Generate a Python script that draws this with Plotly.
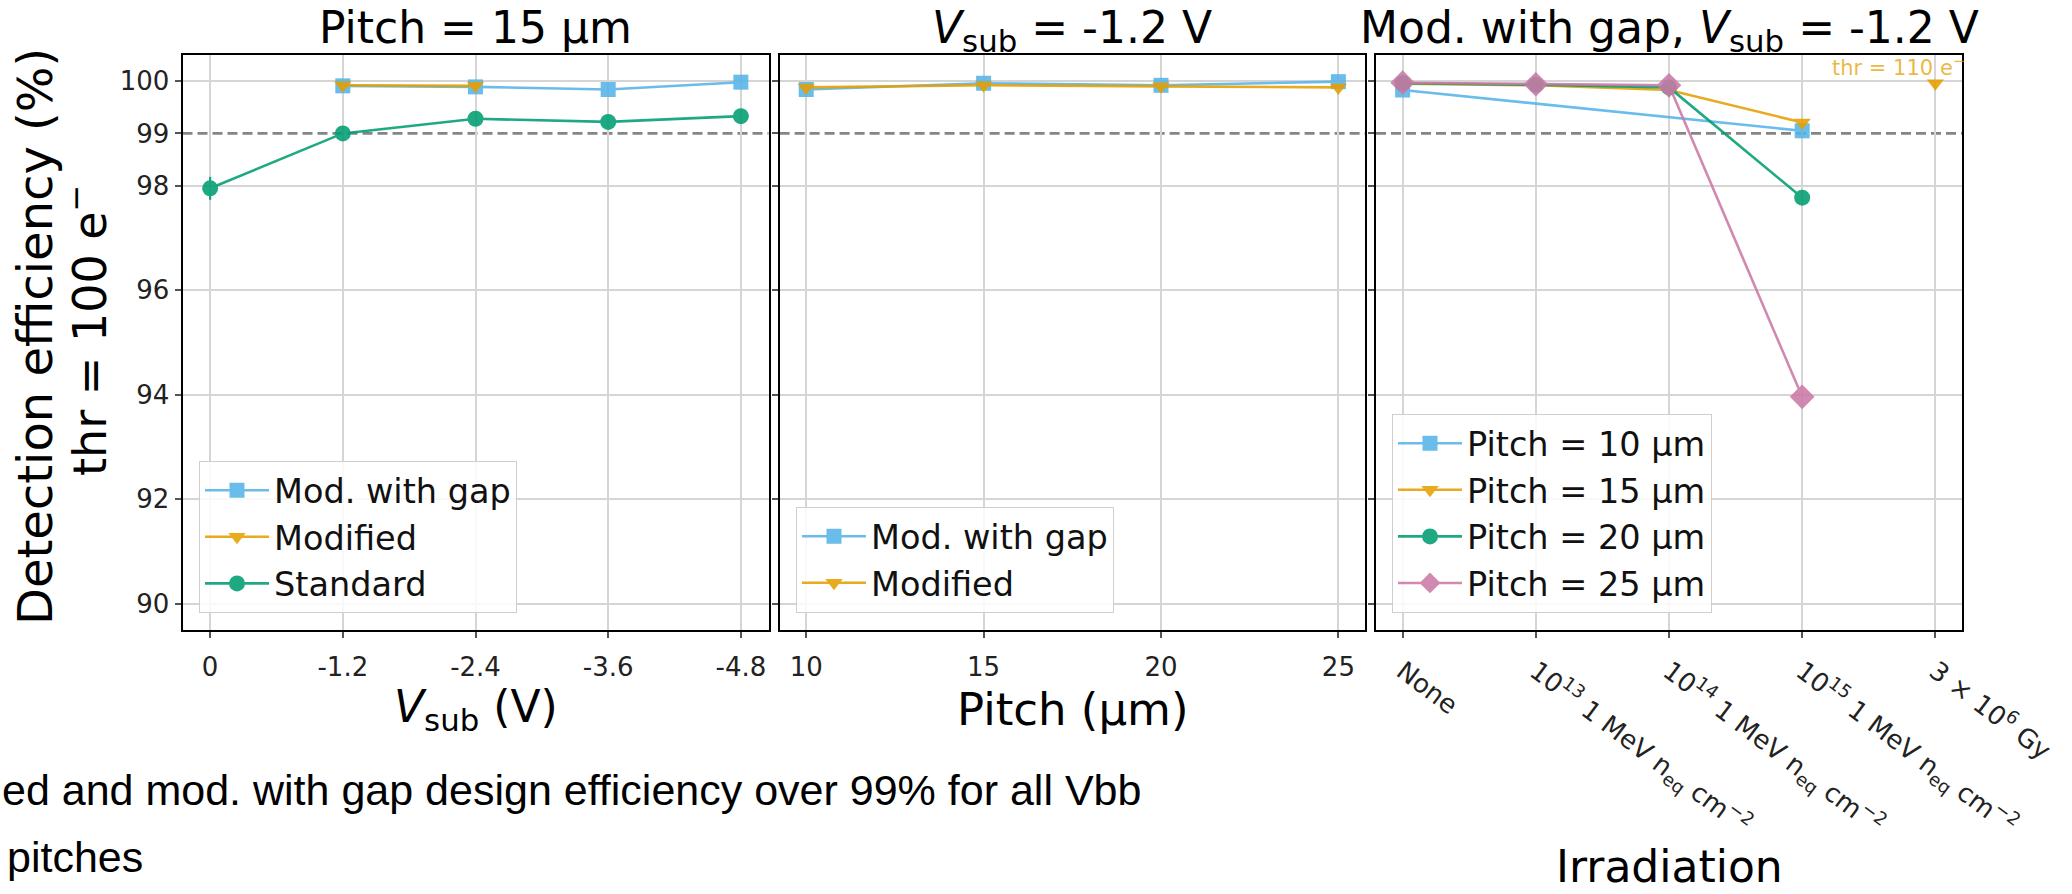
import plotly.graph_objects as go

W, H = 2072, 894
FONT = "DejaVu Sans"

BLUE = "#56B4E9"
ORANGE = "#E69F00"
GREEN = "#009E73"
PINK = "#CC79A7"

# ---------------- Panel 1: Pitch = 15 um, vs V_sub ----------------
vsub_ticks = [0, -1.2, -2.4, -3.6, -4.8]
vsub_ticklabels = ["0", "-1.2", "-2.4", "-3.6", "-4.8"]

p1_gap_x = [-1.2, -2.4, -3.6, -4.8]
p1_gap_y = [99.91, 99.89, 99.84, 99.98]
p1_gap_err = [0.03, 0.03, 0.04, 0.02]

p1_mod_x = [-1.2, -2.4]
p1_mod_y = [99.92, 99.91]
p1_mod_err = [0.03, 0.03]

p1_std_x = [0, -1.2, -2.4, -3.6, -4.8]
p1_std_y = [97.95, 99.00, 99.28, 99.22, 99.33]
p1_std_err = [0.22, 0.08, 0.06, 0.06, 0.06]

# ---------------- Panel 2: V_sub = -1.2 V, vs pitch ----------------
pitch_ticks = [10, 15, 20, 25]
p2_gap_y = [99.84, 99.96, 99.92, 99.99]
p2_gap_err = [0.03, 0.02, 0.03, 0.02]
p2_mod_y = [99.88, 99.92, 99.90, 99.88]
p2_mod_err = [0.03, 0.02, 0.03, 0.04]

# ---------------- Panel 3: Mod. with gap, vs irradiation ----------------
irr_labels = [
    "None",
    "10<sup>13</sup> 1 MeV n<sub>eq</sub> cm<sup>−2</sup>",
    "10<sup>14</sup> 1 MeV n<sub>eq</sub> cm<sup>−2</sup>",
    "10<sup>15</sup> 1 MeV n<sub>eq</sub> cm<sup>−2</sup>",
    "3 × 10<sup>6</sup> Gy",
]
p3_10_x = [irr_labels[0], irr_labels[3]]
p3_10_y = [99.83, 99.05]
p3_10_err = [0.03, 0.05]

p3_15_x = irr_labels[0:4]
p3_15_y = [99.95, 99.92, 99.83, 99.21]
p3_15_err = [0.02, 0.03, 0.03, 0.05]

p3_20_x = irr_labels[0:4]
p3_20_y = [99.96, 99.93, 99.88, 97.77]
p3_20_err = [0.02, 0.03, 0.03, 0.06]

p3_25_x = irr_labels[0:4]
p3_25_y = [99.97, 99.94, 99.92, 93.96]
p3_25_err = [0.02, 0.03, 0.03, 0.08]

p3_15_110_x = [irr_labels[4]]
p3_15_110_y = [99.96]
p3_15_110_err = [0.02]

threshold_line = 99
y_ticks = [90, 92, 94, 96, 98, 99, 100]
y_grid = [90, 92, 94, 96, 98, 100]


def trace(x, y, err, name, color, symbol, size, xa, ya, legend,
          showlegend=True, mode="lines+markers"):
    return go.Scatter(
        x=x, y=y, name=name, mode=mode,
        error_y=dict(type="data", array=err, color=color, thickness=2.2, width=0),
        line=dict(color=color, width=2.6),
        marker=dict(symbol=symbol, size=size, color=color, line=dict(width=0)),
        xaxis=xa, yaxis=ya, legend=legend, showlegend=showlegend,
        opacity=0.88,
    )


fig = go.Figure()
# panel 1
fig.add_trace(trace(p1_gap_x, p1_gap_y, p1_gap_err, "Mod. with gap", BLUE, "square", 15, "x", "y", "legend"))
fig.add_trace(trace(p1_mod_x, p1_mod_y, p1_mod_err, "Modified", ORANGE, "triangle-down", 15, "x", "y", "legend"))
fig.add_trace(trace(p1_std_x, p1_std_y, p1_std_err, "Standard", GREEN, "circle", 16, "x", "y", "legend"))
# panel 2
fig.add_trace(trace(pitch_ticks, p2_gap_y, p2_gap_err, "Mod. with gap", BLUE, "square", 15, "x2", "y2", "legend2"))
fig.add_trace(trace(pitch_ticks, p2_mod_y, p2_mod_err, "Modified", ORANGE, "triangle-down", 15, "x2", "y2", "legend2"))
# panel 3
fig.add_trace(trace(p3_10_x, p3_10_y, p3_10_err, "Pitch = 10 µm", BLUE, "square", 15, "x3", "y3", "legend3"))
fig.add_trace(trace(p3_15_x, p3_15_y, p3_15_err, "Pitch = 15 µm", ORANGE, "triangle-down", 15, "x3", "y3", "legend3"))
fig.add_trace(trace(p3_20_x, p3_20_y, p3_20_err, "Pitch = 20 µm", GREEN, "circle", 16, "x3", "y3", "legend3"))
fig.add_trace(trace(p3_25_x, p3_25_y, p3_25_err, "Pitch = 25 µm", PINK, "diamond", 19, "x3", "y3", "legend3"))
fig.add_trace(trace(p3_15_110_x, p3_15_110_y, p3_15_110_err, "Pitch = 15 µm (thr = 110)", ORANGE,
                    "triangle-down", 15, "x3", "y3", "legend3", showlegend=False, mode="markers"))

GRID = "#d5d5d5"
axis_common = dict(
    showline=True, mirror=True, linecolor="black", linewidth=2,
    ticks="outside", ticklen=6, tickwidth=1.5, tickcolor="#555",
    showgrid=True, gridcolor=GRID, gridwidth=1.5, zeroline=False,
    tickfont=dict(size=26, family=FONT, color="#222"), automargin=False,
)

ydom = [1 - 630 / H, 1 - 55 / H]
yrange = [89.5, 100.5]
y_common = dict(axis_common, domain=ydom, range=yrange, tickvals=y_ticks, showgrid=False,
                minor=dict(tickvals=y_grid, showgrid=True, gridcolor=GRID, gridwidth=1.5, ticks=""))

legend_common = dict(
    xanchor="left", yanchor="bottom",
    bgcolor="rgba(255,255,255,0.85)", bordercolor="#cfcfcf", borderwidth=1,
    font=dict(size=33.5, family=FONT, color="#111"), itemwidth=64, tracegroupgap=0,
)

fig.update_layout(
    width=W, height=H, autosize=False,
    margin=dict(l=0, r=0, t=0, b=0, pad=0),
    paper_bgcolor="white", plot_bgcolor="white",
    font=dict(family=FONT, color="black"),
    xaxis=dict(axis_common, domain=[182.5 / W, 768.5 / W], range=[0.25, -5.05],
               tickvals=vsub_ticks, ticktext=vsub_ticklabels, anchor="y", ticklabelstandoff=7),
    xaxis2=dict(axis_common, domain=[779.6 / W, 1365 / W], range=[9.25, 25.75],
                tickvals=pitch_ticks, anchor="y2", ticklabelstandoff=7),
    xaxis3=dict(axis_common, domain=[1376 / W, 1962 / W], type="category",
                categoryorder="array", categoryarray=irr_labels, range=[-0.2, 4.2],
                tickangle=37, anchor="y3", ticklabelstandoff=8),
    yaxis=dict(y_common, anchor="x"),
    yaxis2=dict(y_common, matches="y", showticklabels=False, anchor="x2"),
    yaxis3=dict(y_common, matches="y", showticklabels=False, anchor="x3"),
    legend=dict(legend_common, x=199 / W, y=1 - 613 / H),
    legend2=dict(legend_common, x=796 / W, y=1 - 613 / H),
    legend3=dict(legend_common, x=1392 / W, y=1 - 613 / H),
    showlegend=True,
)

for xa, ya in [("x", "y"), ("x2", "y2"), ("x3", "y3")]:
    fig.add_shape(type="line", xref=f"{xa} domain", x0=0, x1=1, yref=ya,
                  y0=threshold_line, y1=threshold_line,
                  line=dict(color="#858585", width=2.6, dash="10px,5px"), layer="below")


def ann(text, xpx, ypx, size, xanchor="center", yanchor="middle", angle=0, color="black", family=FONT):
    fig.add_annotation(text=text, x=xpx / W, y=1 - ypx / H, xref="paper", yref="paper",
                       showarrow=False, xanchor=xanchor, yanchor=yanchor, textangle=angle,
                       font=dict(size=size, family=family, color=color))


# panel titles
ann("Pitch = 15 µm", 475.5, 0, 44, yanchor="top")
ann("<i>V</i><sub>sub</sub> = -1.2 V", 1072, 0, 44, yanchor="top")
ann("Mod. with gap, <i>V</i><sub>sub</sub> = -1.2 V", 1669, 0, 44, yanchor="top")

# axis titles
ann("<i>V</i><sub>sub</sub> (V)", 475.5, 709, 44)
ann("Pitch (µm)", 1072, 709, 45)
ann("Irradiation", 1669, 894, 44, yanchor="bottom")
ann("Detection efficiency (%)", 35, 337, 48, angle=-90)
ann("thr = 100 e<sup>−</sup>", 87, 330, 46, angle=-90)

# in-plot note
ann("thr = 110 e<sup>−</sup>", 1898, 66, 21, color="rgba(230,159,0,0.75)")

# slide text below the chart
ann("ed and mod. with gap design efficiency over 99% for all Vbb", 0, 790, 43,
    xanchor="left", family="Liberation Sans")
ann("pitches", 5, 857, 43, xanchor="left", family="Liberation Sans")

fig.write_html("out.html")
